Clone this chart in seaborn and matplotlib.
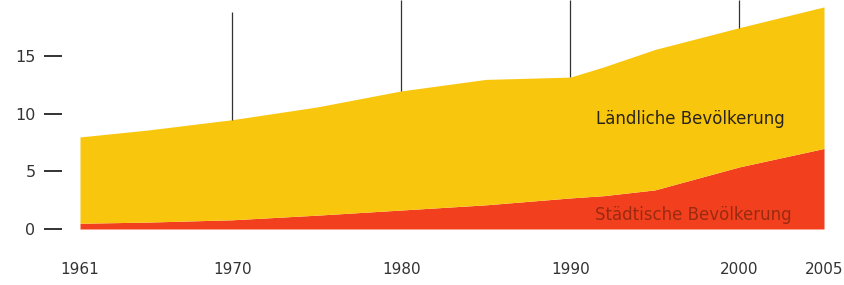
import numpy as np
import pandas as pd
import seaborn as sns
from matplotlib import pyplot as plt

sns.set_style("white")
plt.rcParams['font.family'] = ['DejaVu Sans']

# Bevölkerung in Mio.
jahre = [1961, 1965, 1970, 1975, 1980, 1985, 1990, 1992, 1995, 2000, 2005]
gesamt = [8.0, 8.6, 9.5, 10.6, 12.0, 13.0, 13.2, 14.1, 15.6, 17.5, 19.3]
staedtisch = [0.5, 0.6, 0.8, 1.2, 1.65, 2.1, 2.7, 2.9, 3.4, 5.4, 7.0]
laendlich = [g - s for g, s in zip(gesamt, staedtisch)]
xlabels = [1961, 1970, 1980, 1990, 2000, 2005]
yticks = [0, 5, 10, 15]
linien = [1970, 1980, 1990, 2000]

df = pd.DataFrame({'jahr': jahre, 'staedtisch': staedtisch, 'laendlich': laendlich})

fig = plt.figure(figsize=(8.44, 2.85), dpi=100)
ax = fig.add_axes([80/844, 56/285, 744/844, 229/285])

ax.stackplot(df['jahr'], df['staedtisch'], df['laendlich'],
             colors=['#F2401E', '#F9C60E'], linewidth=0)

# Linien von oben bis zur Fläche
tops = np.interp(linien, jahre, gesamt)
for j, t in zip(linien, tops):
    ax.vlines(j, t, 18.9 if j == 1970 else 19.9, color='#333333', lw=0.9)

ax.text(2002.7, 9.6, 'Ländliche Bevölkerung', ha='right', va='center',
        fontsize=12, color='#2a2418')
ax.text(2003.1, 1.2, 'Städtische Bevölkerung', ha='right', va='center',
        fontsize=12, color='#9a2a10')

ax.set_xlim(1961, 2005)
ax.set_ylim(0, 19.9)
ax.set_xticks(xlabels)
ax.set_xticklabels([str(x) for x in xlabels])
ax.set_yticks(yticks)
ax.set_yticklabels([str(y) for y in yticks])
for s in ['top', 'right', 'bottom', 'left']:
    ax.spines[s].set_visible(False)
ax.spines['left'].set_position(('outward', 13))
ax.tick_params(axis='y', direction='out', length=13, width=1.4, color='#333333',
               pad=6, labelsize=11.5, labelcolor='#333333', left=True)
ax.tick_params(axis='x', length=0, pad=24, labelsize=11, labelcolor='#333333')

fig.savefig('out.png', dpi=100)
